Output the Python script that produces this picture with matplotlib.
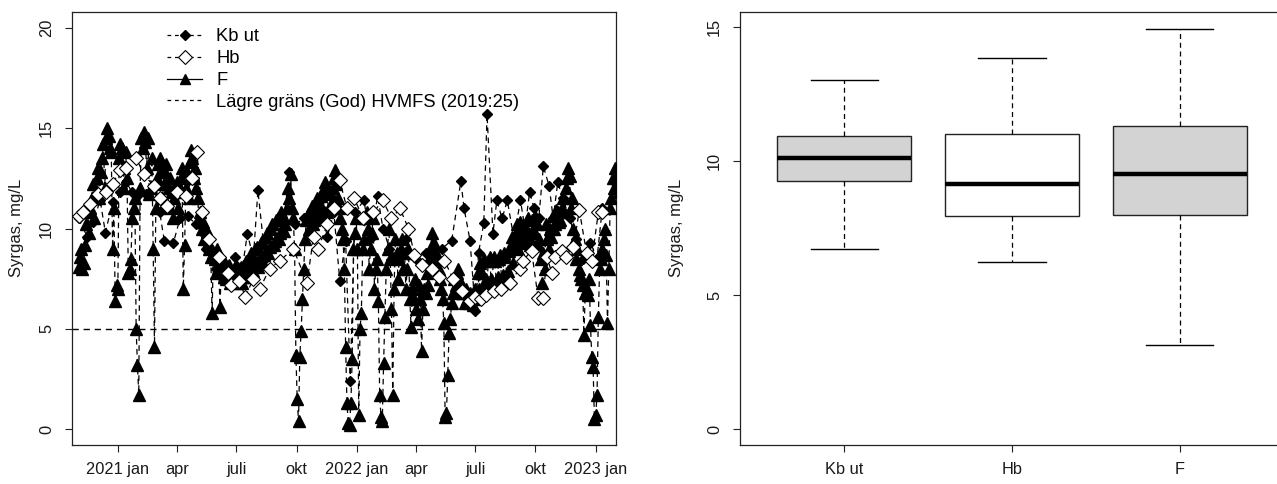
import matplotlib
matplotlib.use("Agg")
import matplotlib.pyplot as plt
from matplotlib.lines import Line2D
import numpy as np
import pandas as pd

plt.rcParams['font.family'] = ['Liberation Sans', 'DejaVu Sans']

# ---------------- data ----------------
ref_date = "2021-01-01"

# Kb ut (day offset from 2021-01-01, value mg/L)
kb_days = [-60, -47, -38, -27, -19, -8, 3, 13, 22, 30, 43, 55, 64, 71, 85, 95, 107, 120, 135, 150,
           165, 179, 190, 198, 207, 214, 225, 240, 252, 262, 270, 285, 300, 310, 320, 330, 339, 348,
           355, 362, 376, 385, 397, 405, 415, 425, 440, 455, 470, 485, 495, 510, 524, 529, 538, 546,
           551, 559, 564, 573, 579, 587, 595, 605, 615, 622, 629, 636, 643, 650, 659, 665, 672, 680,
           690, 700, 710, 722, 732, 740]
kb_vals = [10.5, 9.6, 10.3, 11.4, 9.8, 11.3, 11.8, 12.3, 11.8, 11.6, 11.7, 12.0, 10.8, 9.4, 9.3, 10.5,
           10.6, 10.2, 9.0, 8.0, 7.6, 8.6, 8.0, 9.75, 8.5, 11.9, 8.5, 9.2, 10.0, 12.8, 10.2, 10.5, 10.8,
           11.0, 9.6, 10.8, 7.4, 9.4, 2.4, 10.8, 11.4, 9.5, 11.6, 10.0, 9.0, 8.5, 9.5, 8.5, 8.8, 9.0,
           9.0, 9.4, 12.35, 11.0, 9.4, 5.9, 8.8, 10.25, 15.7, 9.75, 11.4, 10.5, 11.4, 9.5, 11.4, 10.0,
           11.8, 11.0, 10.5, 13.1, 12.1, 10.5, 12.3, 11.5, 10.5, 9.5, 8.5, 9.3, 8.5, 11.0]

# Hb
hb_days = [-60, -53, -43, -31, -18, -8, 3, 13, 28, 40, 55, 64, 75, 90, 104, 113, 121, 128, 140, 155,
           168, 173, 185, 195, 207, 217, 232, 248, 268, 289, 299, 306, 320, 330, 339, 350, 361, 375,
           390, 405, 418, 431, 444, 453, 465, 480, 490, 499, 512, 525, 538, 545, 555, 563, 575, 586,
           599, 614, 619, 632, 642, 650, 655, 663, 668, 678, 685, 696, 705, 716, 724, 734, 739]
hb_vals = [10.6, 10.8, 11.2, 11.7, 11.8, 12.2, 12.9, 13.0, 13.5, 12.7, 12.1, 11.5, 11.1, 11.8, 11.6,
           12.5, 13.8, 10.8, 9.5, 8.6, 7.8, 7.2, 7.4, 6.6, 7.5, 7.0, 8.0, 8.4, 9.0, 7.3, 9.6, 9.0, 10.2,
           11.0, 12.4, 11.0, 11.5, 10.5, 10.8, 11.4, 10.5, 11.0, 10.0, 8.7, 8.2, 8.0, 7.6, 8.4, 7.5, 6.9,
           6.4, 6.6, 6.5, 6.7, 6.9, 7.0, 7.3, 8.0, 8.4, 8.9, 6.55, 6.55, 8.6, 7.8, 8.6, 8.9, 8.6, 9.1,
           10.9, 8.8, 8.4, 10.8, 10.8]

# F (sampled every 2 days from 2020-11-02)
f_start = "2020-11-02"
f_vals = [
    8.1, 8.6, 9.0, 8.0, 8.3, 9.2, 10.2, 10.8, 9.8, 11.0, 11.5, 12.2, 10.5, 11.5, 12.5, 13.0,
    11.5, 12.8, 13.5, 14.2, 12.0, 14.5, 15.0, 14.6, 14.0, 13.8, 9.0, 11.0, 6.4, 7.2, 7.0, 13.5,
    14.2, 14.0, 12.0, 13.0, 13.8, 12.5, 7.8, 8.0, 8.5, 10.5, 11.0, 11.5, 5.0, 3.2, 1.7, 12.0,
    14.5, 14.0, 14.8, 14.3, 13.0, 14.5, 11.7, 12.0, 13.5, 9.0, 4.1, 11.0, 12.5, 13.2, 13.5, 12.8,
    11.5, 12.2, 12.8, 13.2, 11.0, 12.0, 12.5, 11.8, 10.5, 11.5, 12.0, 12.3, 11.0, 11.8, 12.5, 13.0,
    7.0, 9.2, 12.0, 12.8, 11.5, 13.3, 13.9, 13.5, 12.5, 13.0, 12.0, 11.5, 10.5, 10.8, 10.0, 10.3,
    9.5, 10.0, 9.8, 9.3, 9.0, 8.6, 5.8, 8.8, 8.5, 7.8, 9.0, 8.2, 6.1, 7.9, 8.0, 7.6,
    8.3, 7.5, 7.9, 8.2, 7.3, 7.8, 7.4, 8.0, 8.2, 7.3, 7.5, 7.9, 8.1, 7.3, 7.6, 8.2,
    8.4, 7.6, 7.9, 8.6, 8.8, 7.9, 8.2, 9.0, 9.1, 8.1, 8.5, 9.3, 9.4, 8.3, 8.7, 9.6,
    9.8, 8.8, 9.1, 10.0, 10.2, 9.2, 9.4, 10.4, 10.5, 9.5, 9.8, 10.8, 10.6, 9.9, 10.2, 11.0,
    12.0, 11.5, 12.7, 11.0, 10.5, 9.0, 3.7, 1.5, 0.4, 3.6, 4.9, 6.5, 8.0, 9.5, 10.4, 10.7,
    10.0, 10.8, 11.1, 10.2, 10.4, 11.3, 11.5, 10.5, 10.6, 11.6, 11.8, 10.8, 12.3, 11.8, 10.8, 11.7,
    11.8, 11.2, 12.0, 12.5, 12.9, 12.2, 11.5, 11.0, 10.5, 10.0, 9.5, 8.0, 4.1, 1.3, 0.3, 0.2,
    1.3, 3.5, 9.0, 9.8, 10.5, 9.0, 0.7, 5.0, 5.8, 9.0, 9.5, 10.5, 10.8, 10.0, 8.0, 9.0,
    9.8, 10.5, 7.0, 8.0, 8.5, 6.4, 1.7, 0.6, 0.4, 3.3, 5.6, 8.0, 9.0, 10.0, 8.5, 6.0,
    1.7, 7.0, 9.5, 8.8, 7.5, 8.5, 9.0, 9.5, 8.0, 8.8, 7.0, 8.0, 9.0, 6.5, 5.1, 7.0,
    6.5, 7.5, 6.0, 5.5, 7.2, 6.5, 3.9, 6.0, 7.0, 6.8, 7.8, 7.2, 8.5, 9.0, 9.8, 9.3,
    9.2, 8.8, 8.5, 8.0, 7.5, 7.0, 6.5, 5.3, 0.6, 0.8, 2.7, 4.8, 5.5, 6.3, 6.8, 7.5,
    7.2, 7.8, 8.0, 7.0, 7.3, 6.8, 6.8, 6.3, 7.0, 6.5, 6.3, 6.8, 6.6, 6.2, 6.5, 7.0,
    6.8, 7.8, 7.0, 8.3, 7.8, 7.0, 8.5, 7.5, 7.3, 8.4, 8.6, 7.5, 7.4, 8.6, 8.4, 7.4,
    7.6, 8.5, 8.7, 7.5, 7.7, 8.8, 8.6, 7.7, 7.9, 8.9, 9.2, 9.6, 8.3, 9.2, 9.8, 10.2,
    9.0, 10.3, 10.0, 9.5, 9.3, 9.8, 10.0, 10.5, 9.6, 9.2, 10.4, 10.0, 9.8, 10.6, 10.2, 9.2,
    9.5, 8.5, 7.3, 8.8, 8.0, 10.2, 9.5, 9.0, 10.0, 9.6, 10.6, 10.0, 10.2, 10.9, 10.8, 10.3,
    10.4, 11.0, 11.5, 10.8, 12.0, 12.5, 13.0, 12.6, 11.0, 11.5, 10.0, 9.5, 8.5, 9.0, 8.0, 7.7,
    7.5, 7.2, 4.7, 6.8, 7.0, 6.7, 7.5, 5.2, 3.6, 3.1, 0.5, 0.7, 1.7, 5.6, 8.0, 8.5,
    9.0, 9.5, 10.0, 8.7, 5.3, 8.0, 11.0, 11.5, 12.5, 12.0, 13.0, 12.6, 12.0, 11.8]

limit_value = 5
x_tick_dates = ["2021-01-01", "2021-04-01", "2021-07-01", "2021-10-01", "2022-01-01",
                "2022-04-01", "2022-07-01", "2022-10-01", "2023-01-01"]
x_tick_labels = ["2021 jan", "apr", "juli", "okt", "2022 jan", "apr", "juli", "okt", "2023 jan"]

legend_labels = ["Kb ut", "Hb", "F", "Lägre gräns (God) HVMFS (2019:25)"]

# boxplot statistics
box_names = ["Kb ut", "Hb", "F"]
box_whislo = [6.72, 6.23, 3.13]
box_q1 = [9.25, 7.95, 8.0]
box_med = [10.12, 9.14, 9.5]
box_q3 = [10.93, 11.0, 11.3]
box_whishi = [13.0, 13.84, 14.9]
box_colors = ["#d3d3d3", "#ffffff", "#d3d3d3"]

# ---------------- figure ----------------
W, H = 1277, 484
fig = plt.figure(figsize=(W / 100, H / 100), dpi=100)

def ax_rect(x0, x1, y0, y1):
    return [x0 / W, 1 - y1 / H, (x1 - x0) / W, (y1 - y0) / H]

ax1 = fig.add_axes(ax_rect(72, 616, 12, 445))
ax2 = fig.add_axes(ax_rect(740, 1284, 12, 445))

ref = pd.Timestamp(ref_date)
kb_dates = ref + pd.to_timedelta(kb_days, unit="D")
hb_dates = ref + pd.to_timedelta(hb_days, unit="D")
f_dates = pd.date_range(f_start, periods=len(f_vals), freq="2D")

dash = (0, (4.5, 3.5))
lw = 0.9

ax1.plot(kb_dates, kb_vals, linestyle=dash, color="black", lw=lw, marker="D",
         markersize=4.8, markerfacecolor="black", markeredgecolor="black", zorder=2)
ax1.plot(f_dates, f_vals, linestyle=dash, color="black", lw=lw, marker="^",
         markersize=8.5, markerfacecolor="black", markeredgecolor="black", zorder=3)
ax1.plot(hb_dates, hb_vals, linestyle=dash, color="black", lw=lw, marker="D",
         markersize=6.8, markerfacecolor="white", markeredgecolor="black",
         markeredgewidth=0.8, zorder=4)
ax1.axhline(limit_value, linestyle=dash, color="black", lw=1.0, zorder=1)

ax1.set_xlim(pd.Timestamp("2020-10-23"), pd.Timestamp("2023-02-01"))
ax1.set_ylim(-0.8, 20.8)
ax1.set_yticks([0, 5, 10, 15, 20])
ax1.set_xticks(pd.to_datetime(x_tick_dates))
ax1.set_xticklabels(x_tick_labels)

handles = [
    Line2D([], [], linestyle=(0, (3, 3)), color="black", lw=lw, marker="D", markersize=4.8,
           markerfacecolor="black"),
    Line2D([], [], linestyle=(0, (3, 3)), color="black", lw=lw, marker="D", markersize=6.8,
           markerfacecolor="white", markeredgewidth=0.8),
    Line2D([], [], linestyle="-", color="black", lw=lw, marker="^", markersize=7.5,
           markerfacecolor="black"),
    Line2D([], [], linestyle=(0, (3, 3)), color="black", lw=lw),
]
ax1.legend(handles, legend_labels, loc="upper left", bbox_to_anchor=(0.174, 0.962),
           frameon=False, fontsize=13.2, handlelength=1.95, handletextpad=0.75,
           labelspacing=0.26, borderpad=0, borderaxespad=0)

# ---------------- boxplot ----------------
stats = []
for i, n in enumerate(box_names):
    stats.append(dict(label=n, whislo=box_whislo[i], q1=box_q1[i], med=box_med[i],
                      q3=box_q3[i], whishi=box_whishi[i], fliers=[]))
bp = ax2.bxp(stats, positions=[1, 2, 3], widths=0.8, patch_artist=True, showfliers=False,
             boxprops=dict(edgecolor="#222222", linewidth=1.0),
             whiskerprops=dict(linestyle=(0, (4, 3)), color="black", linewidth=0.9),
             capprops=dict(color="black", linewidth=1.0),
             medianprops=dict(color="black", linewidth=3.2, solid_capstyle="butt"),
             capwidths=0.4)
for patch, c in zip(bp["boxes"], box_colors):
    patch.set_facecolor(c)
ax2.set_xlim(0.38, 3.62)
ax2.set_ylim(-0.58, 15.55)
ax2.set_yticks([0, 5, 10, 15])
ax2.set_xticks([1, 2, 3])
ax2.set_xticklabels(box_names)

for ax in (ax1, ax2):
    for s in ax.spines.values():
        s.set_linewidth(0.9)
        s.set_color("#222222")
    ax.tick_params(axis="both", direction="out", length=5, width=0.8, color="#222222",
                   labelsize=11.8, labelcolor="#1a1a1a")
    ax.tick_params(axis="x", pad=7)
    ax.tick_params(axis="y", pad=8, labelrotation=90)
    for lbl in ax.get_yticklabels():
        lbl.set_va("center")

fig.text(17 / W, 1 - 228 / H, "Syrgas, mg/L", rotation=90, ha="center", va="center",
         fontsize=12, color="#1a1a1a")
fig.text(676 / W, 1 - 228 / H, "Syrgas, mg/L", rotation=90, ha="center", va="center",
         fontsize=12, color="#1a1a1a")

fig.savefig("out.png", dpi=100)
